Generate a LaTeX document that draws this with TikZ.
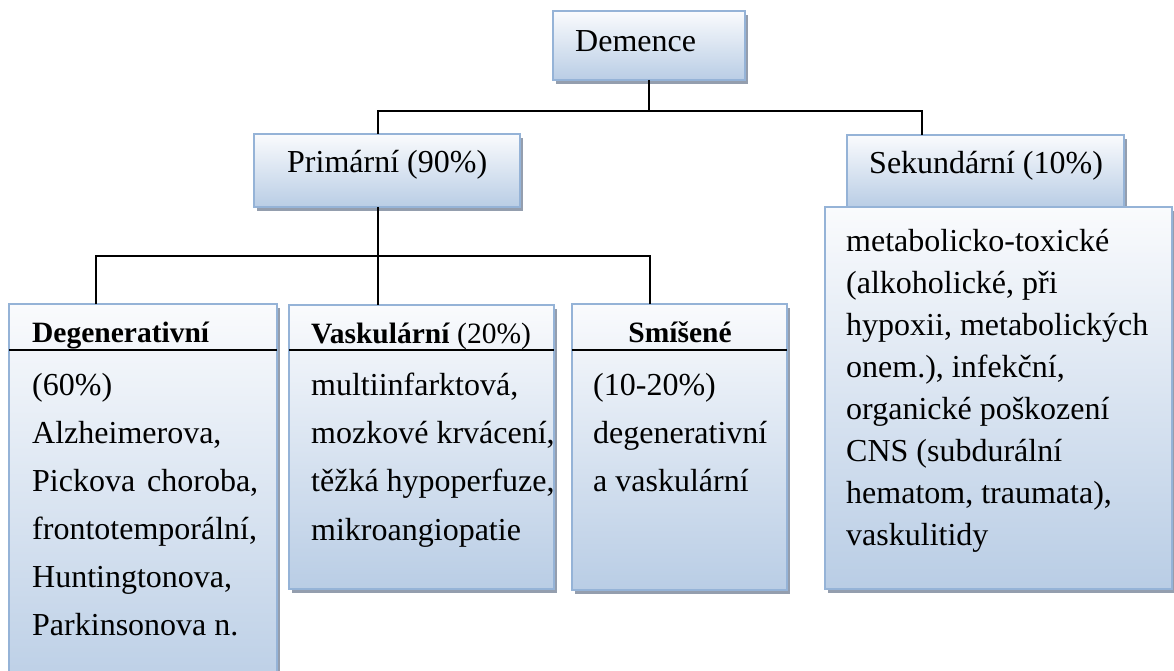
\documentclass[tikz,border=0pt]{standalone}
\usepackage{fontspec}
\setmainfont{Liberation Serif}
\usetikzlibrary{shadows}
\definecolor{bordc}{RGB}{149,179,215}
\definecolor{topc}{RGB}{250,251,253}
\definecolor{botc}{RGB}{185,205,229}
\definecolor{shadc}{RGB}{148,158,174}
\begin{document}
\begin{tikzpicture}[x=1pt,y=-1pt,
  box/.style={draw=bordc, line width=1.8pt, top color=topc, bottom color=botc,
    anchor=north west, inner sep=0pt, outer sep=0pt,
    drop shadow={shadow xshift=3pt, shadow yshift=-4pt, fill=shadc, opacity=1}},
  conn/.style={line width=1.5pt, draw=black},
  hdr/.style={line width=1.5pt, draw=black},
  txt/.style={anchor=base west, inner sep=0pt, font=\fontsize{32}{32}\selectfont},
  htxt/.style={anchor=base west, inner sep=0pt, font=\fontsize{29.5}{29.5}\selectfont}]
\useasboundingbox (0,0) rectangle (1174,671);
\clip (0,0) rectangle (1174,671);

% boxes
\node[box, minimum width=192pt, minimum height=69pt] (dem) at (553,11) {};
\node[box, minimum width=266pt, minimum height=73pt] (pri) at (254,134) {};
\node[box, minimum width=277pt, minimum height=72pt] (sek) at (847,135) {};
\node[box, minimum width=347pt, minimum height=382pt] (sekb) at (825,207) {};
\node[box, minimum width=268pt, minimum height=400pt] (deg) at (9,304) {};
\node[box, minimum width=265pt, minimum height=284pt] (vas) at (289,305) {};
\node[box, minimum width=215pt, minimum height=286pt] (smi) at (572,304) {};

% header separators
\draw[hdr] ([yshift=-46pt]deg.north west) -- ([yshift=-46pt]deg.north east);
\draw[hdr] ([yshift=-45pt]vas.north west) -- ([yshift=-45pt]vas.north east);
\draw[hdr] ([yshift=-46pt]smi.north west) -- ([yshift=-46pt]smi.north east);

% connectors
\coordinate (bus1) at (649,111);
\coordinate (bus2) at (378,256);
\draw[conn] (dem.south) -- (bus1);
\draw[conn] ([xshift=-9pt]pri.north) |- (bus1) -| ([xshift=-63.5pt]sek.north);
\draw[conn] ([xshift=-9pt]pri.south) -- (bus2);
\draw[conn] ([xshift=-47pt]deg.north) |- (bus2) -| ([xshift=-29.5pt]smi.north);
\draw[conn] (bus2) -- ([xshift=-43.5pt]vas.north);

% texts
\node[txt] (tdem) at (575,52) {Demence};
\node[txt] (tpri) at (287,172) {Primární (90\%)};
\node[txt] (tsek) at (869,174) {Sekundární (10\%)};

\node[htxt] (hdeg) at (32,342) {\textbf{Degenerativní}};
\node[htxt] (hvas) at (311,343) {\textbf{Vaskulární} (20\%)};
\node[htxt, anchor=base] (hsmi) at (680,342) {\textbf{Smíšené}};

\node[txt] (d1) at (32,395) {(60\%)};
\node[txt] (d2) at (32,443) {Alzheimerova,};
\node[txt] (d3) at (32,491) {\makebox[226pt][s]{Pickova choroba,}};
\node[txt] (d4) at (32,539) {frontotemporální,};
\node[txt] (d5) at (32,587) {Huntingtonova,};
\node[txt] (d6) at (32,635) {Parkinsonova n.};

\node[txt] (v1) at (311,395) {multiinfarktová,};
\node[txt] (v2) at (311,443) {mozkové krvácení,};
\node[txt] (v3) at (311,491) {těžká hypoperfuze,};
\node[txt] (v4) at (311,540) {mikroangiopatie};

\node[txt] (s1) at (593,395) {(10-20\%)};
\node[txt] (s2) at (593,443) {degenerativní};
\node[txt] (s3) at (593,491) {a vaskulární};

\node[txt] (r1) at (846,251) {metabolicko-toxické};
\node[txt] (r2) at (846,293) {(alkoholické, při};
\node[txt] (r3) at (846,335) {hypoxii, metabolických};
\node[txt] (r4) at (846,377) {onem.), infekční,};
\node[txt] (r5) at (846,419) {organické poškození};
\node[txt] (r6) at (846,461) {CNS (subdurální};
\node[txt] (r7) at (846,503) {hematom, traumata),};
\node[txt] (r8) at (846,545) {vaskulitidy};
\end{tikzpicture}
\end{document}
